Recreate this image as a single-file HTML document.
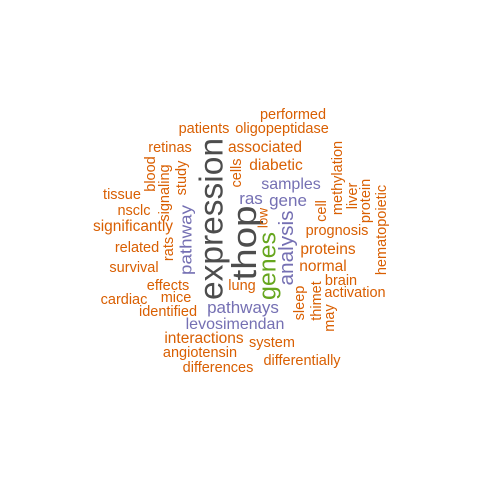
<!DOCTYPE html>
<html><head><meta charset="utf-8"><style>
html,body{margin:0;padding:0;background:#fff;}
svg{display:block;font-family:"Liberation Sans",Arial,sans-serif;}
</style></head><body>
<svg width="480" height="480" viewBox="0 0 480 480">
<g id="words"></g>
</svg>
<script>
const O="#D95F02",P="#7570B3",G="#66A61E",K="#4D4D4D";
// word, color, size, x, y, rotated, length
const words=[
["performed",O,14.5,293,119,0],["patients",O,14.5,204,133,0],["oligopeptidase",O,14.5,282,133,0],
["retinas",O,14.5,170,152,0],["associated",O,15.5,265,152,0],["diabetic",O,15.5,276,170,0],
["samples",P,16,291,189,0],["ras",P,17,251,204,0],["gene",P,17,288,206,0],
["tissue",O,14.5,122,199,0],["nsclc",O,14.5,134,215,0],["significantly",O,15.5,133,231,0],
["prognosis",O,14.5,337,235,0],["related",O,14.5,137,252,0],["proteins",O,15.5,328,254,0],
["survival",O,14.5,134,272,0],["normal",O,15.5,323,271,0],["brain",O,14.5,341,285,0],
["activation",O,14.5,355,297,0],["effects",O,14.5,168,290,0],["lung",O,14.5,242,290,0],
["cardiac",O,14.5,124,304,0],["mice",O,14.5,176,302,0],["identified",O,14.5,168,316,0],
["pathways",P,17,243,313,0],["levosimendan",P,16,235,329,0],["interactions",O,15.5,204,343,0],
["angiotensin",O,14.5,200,357,0],["system",O,14.5,272,347,0],["differentially",O,14.5,302,365,0],
["differences",O,14.5,218,372,0],
["expression",K,33,211,219,1,162],["thop",K,34,245,243,1,75],["genes",G,24,268,266,1,68],
["analysis",P,20,287,248,1,75],["pathway",P,17,186,240,1,70],["blood",O,14.5,151,174,1],
["signaling",O,14.5,165,193,1],["study",O,14.5,182,178,1],["rats",O,14.5,169,249,1],
["cells",O,14.5,237,173,1],["low",O,13.5,263,218,1],["cell",O,14.5,322,211,1],
["methylation",O,14.5,338,178,1],["liver",O,14.5,353,196,1],["protein",O,14.5,366,201,1],
["hematopoietic",O,14.5,382,230,1],["sleep",O,14.5,300,303,1],["thimet",O,14.5,317,301,1],
["may",O,14.5,330,318,1]
];
const g=document.getElementById('words');
const NS="http://www.w3.org/2000/svg";
words.forEach(w=>{
  const t=document.createElementNS(NS,'text');
  t.textContent=w[0];
  t.setAttribute('fill',w[1]);
  t.setAttribute('font-size',w[2]);
  t.setAttribute('text-anchor','middle');
  if(w[5]){
    t.setAttribute('dominant-baseline','central');
    t.setAttribute('transform','translate('+w[3]+','+w[4]+') rotate(-90)');
    if(w[6]){t.setAttribute('textLength',w[6]);t.setAttribute('lengthAdjust','spacingAndGlyphs');}
  } else {
    t.setAttribute('x',w[3]);t.setAttribute('y',w[4]);
  }
  
  
  g.appendChild(t);
});
</script>
</body></html>
